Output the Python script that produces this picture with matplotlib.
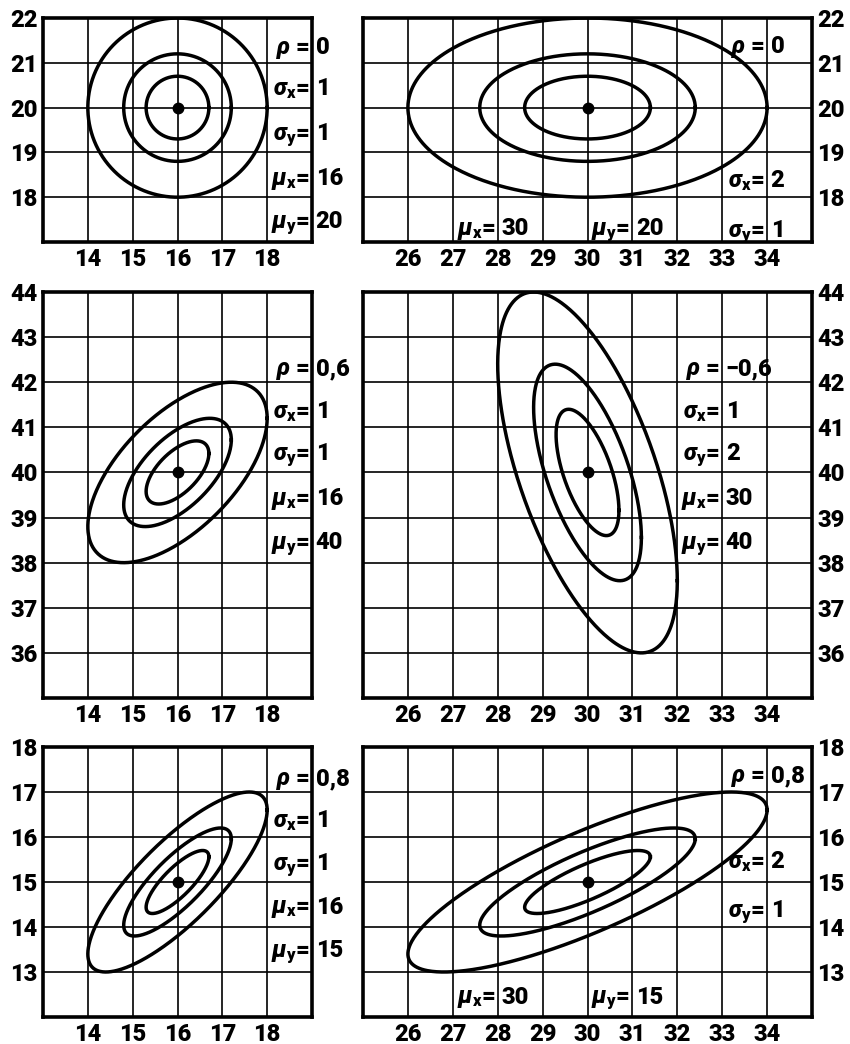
import numpy as np
import matplotlib
matplotlib.use("Agg")
import matplotlib.pyplot as plt

plt.rcParams["font.family"] = ["Roboto", "DejaVu Sans"]
plt.rcParams["font.weight"] = "black"
plt.rcParams["mathtext.fontset"] = "custom"
plt.rcParams["mathtext.it"] = "Roboto:italic:black"
plt.rcParams["mathtext.rm"] = "Roboto:black"
plt.rcParams["mathtext.bf"] = "Roboto:black"

# Parameters of the six bivariate normal distributions (row by row, left then right)
rho = [0, 0, 0.6, -0.6, 0.8, 0.8]
sigma_x = [1, 2, 1, 1, 1, 2]
sigma_y = [1, 1, 1, 2, 1, 1]
mu_x = [16, 30, 16, 30, 16, 30]
mu_y = [20, 20, 40, 40, 15, 15]

# Mahalanobis radii of the three drawn contours
contour_radii = [0.7, 1.2, 2.0]

# Axis ranges and tick labels
x_range_left = (13, 19)
x_range_right = (25, 35)
x_ticks_left = [14, 15, 16, 17, 18]
x_ticks_right = [26, 27, 28, 29, 30, 31, 32, 33, 34]
y_ranges = [(17, 22), (35, 44), (12, 18)]
y_ticks = [[18, 19, 20, 21, 22],
           [36, 37, 38, 39, 40, 41, 42, 43, 44],
           [13, 14, 15, 16, 17, 18]]

symbols = {
    "rho": r"$\rho$ =",
    "sx": r"$\sigma_\mathrm{x}$=",
    "sy": r"$\sigma_\mathrm{y}$=",
    "mx": r"$\mu_\mathrm{x}$=",
    "my": r"$\mu_\mathrm{y}$=",
}

# Where each parameter label sits: (symbol, grid line it leans on, baseline)
label_layout = [
    [("rho", 19, 21.2), ("sx", 19, 20.28), ("sy", 19, 19.28), ("mx", 19, 18.28), ("my", 19, 17.32)],
    [("rho", 34, 21.22), ("sx", 34, 18.23), ("sy", 34, 17.12), ("mx", 28, 17.15), ("my", 31, 17.15)],
    [("rho", 19, 42.16), ("sx", 19, 41.2), ("sy", 19, 40.27), ("mx", 19, 39.27), ("my", 19, 38.3)],
    [("rho", 33, 42.16), ("sx", 33, 41.2), ("sy", 33, 40.27), ("mx", 33, 39.27), ("my", 33, 38.3)],
    [("rho", 19, 17.15), ("sx", 19, 16.22), ("sy", 19, 15.27), ("mx", 19, 14.3), ("my", 19, 13.33)],
    [("rho", 34, 17.22), ("sx", 34, 15.3), ("sy", 34, 14.22), ("mx", 28, 12.3), ("my", 31, 12.3)],
]

# Axes boxes in pixels: (left, right) per column, (top, bottom) per row
W, H = 850, 1044
col_px = [(43, 312), (363, 812)]
row_px = [(18, 242), (292, 698), (747, 1017)]


def fmt(v):
    return f"{v:g}".replace(".", ",").replace("-", "\u2212")


fig = plt.figure(figsize=(W / 100, H / 100), dpi=100)
t = np.linspace(0, 2 * np.pi, 500)

for i in range(6):
    r, c = divmod(i, 2)
    x0, x1 = col_px[c]
    y0, y1 = row_px[r]
    ax = fig.add_axes([x0 / W, 1 - y1 / H, (x1 - x0) / W, (y1 - y0) / H])

    xr = x_range_left if c == 0 else x_range_right
    ax.set_xlim(*xr)
    ax.set_ylim(*y_ranges[r])
    xt = x_ticks_left if c == 0 else x_ticks_right
    ax.set_xticks(xt)
    ax.set_xticklabels([str(v) for v in xt])
    ax.set_yticks(y_ticks[r])
    ax.set_yticklabels([str(v) for v in y_ticks[r]])
    if c == 1:
        ax.yaxis.tick_right()
    ax.tick_params(length=0, labelsize=17, pad=4)
    for lab in ax.get_xticklabels() + ax.get_yticklabels():
        lab.set_fontweight("black")
    ax.grid(True, color="black", linewidth=1.2)
    ax.set_axisbelow(True)
    for sp in ax.spines.values():
        sp.set_linewidth(2.6)

    sx, sy, p = sigma_x[i], sigma_y[i], rho[i]
    cov = np.array([[sx ** 2, p * sx * sy], [p * sx * sy, sy ** 2]])
    L = np.linalg.cholesky(cov)
    for k in contour_radii:
        pts = L @ np.vstack([k * np.cos(t), k * np.sin(t)])
        ax.plot(mu_x[i] + pts[0], mu_y[i] + pts[1], color="black", linewidth=2.5)
    ax.plot([mu_x[i]], [mu_y[i]], "o", color="black", markersize=7.5)

    values = {"rho": fmt(p), "sx": fmt(sx), "sy": fmt(sy),
              "mx": fmt(mu_x[i]), "my": fmt(mu_y[i])}
    for key, xl, yb in label_layout[i]:
        ax.text(xl - 0.05, yb, symbols[key], ha="right", va="baseline",
                fontsize=17, fontweight="black", clip_on=False)
        ax.text(xl + 0.08, yb, values[key], ha="left", va="baseline",
                fontsize=17, fontweight="black", clip_on=False)

fig.savefig("out.png", dpi=100)
